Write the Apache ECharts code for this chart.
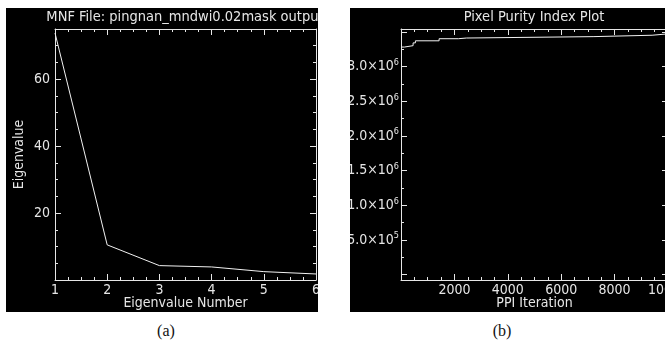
<!DOCTYPE html>
<html>
<head>
<meta charset="utf-8">
<script src="https://cdn.jsdelivr.net/npm/echarts@6/dist/echarts.min.js"></script>
<style>
  body { margin: 0; background: #fff; width: 665px; height: 344px; position: relative; overflow: hidden; }
  .panel { position: absolute; top: 8px; height: 304px; background: #000; }
  .caption { position: absolute; top: 322px; width: 60px; text-align: center;
    font-family: 'Liberation Serif', 'DejaVu Serif', serif; font-size: 16px; color: #111; }
</style>
</head>
<body>
<div id="mnf" class="panel" style="left:6px;width:312px;"></div>
<div id="ppi" class="panel" style="left:350px;width:315px;"></div>
<div class="caption" style="left:136px;">(a)</div>
<div class="caption" style="left:472px;">(b)</div>
<script>
// (a) MNF eigenvalues
const eigenNumbers = [1, 2, 3, 4, 5, 6];
const eigenValues = [73.8, 10.5, 4.3, 3.9, 2.5, 1.8];

// (b) PPI curve, value holds until the next iteration
const ppiIterations = [0, 127, 453, 540, 1427, 2150, 2450, 7194, 9404, 10000];
const ppiCounts = [3.28e6, 3.30e6, 3.34e6, 3.37e6, 3.40e6, 3.41e6, 3.43e6, 3.45e6, 3.47e6, 3.47e6];

const FONT = "'DejaVu Sans Condensed', 'Liberation Sans', sans-serif";
const FG = '#e6e6e6';
const LABEL_SIZE = 14;

// a box axis: line + inward ticks, optional labels
function boxAxis(pos, extra) {
  return Object.assign({
    type: 'value',
    position: pos,
    nameMoveOverlap: false,
    axisLine: { show: true, onZero: false, lineStyle: { color: FG, width: 1 } },
    axisTick: { show: true, inside: true, length: 6, lineStyle: { color: FG } },
    minorTick: { show: true, splitNumber: 4, length: 3, lineStyle: { color: FG } },
    splitLine: { show: false },
    axisLabel: { show: false },
  }, extra);
}

const mnfChart = echarts.init(document.getElementById('mnf'));
const xA = { min: 1, max: 6, interval: 1 };
const yA = { min: 0, max: 75, interval: 20 };
mnfChart.setOption({
  backgroundColor: '#000',
  animation: false,
  graphic: [{
    type: 'text', x: 179, y: 2,
    style: { text: 'MNF File: pingnan_mndwi0.02mask output', fill: FG, font: '14.5px ' + FONT, textAlign: 'center' }
  }],
  grid: { left: 49, right: 2, top: 21, bottom: 32, outerBoundsMode: 'none', containLabel: false },
  xAxis: [
    boxAxis('bottom', Object.assign({
      name: 'Eigenvalue Number', nameLocation: 'middle', nameGap: 16,
      nameTextStyle: { color: FG, fontFamily: FONT, fontSize: 14, verticalAlign: 'top' },
      axisLabel: { show: true, color: FG, fontFamily: FONT, fontSize: LABEL_SIZE, margin: 3 }
    }, xA)),
    boxAxis('top', xA)
  ],
  yAxis: [
    boxAxis('left', Object.assign({
      name: 'Eigenvalue', nameLocation: 'middle', nameGap: 29,
      nameTextStyle: { color: FG, fontFamily: FONT, fontSize: 14 },
      axisLabel: { show: true, color: FG, fontFamily: FONT, fontSize: LABEL_SIZE, margin: 5,
        showMinLabel: false, showMaxLabel: false }
    }, yA)),
    boxAxis('right', yA)
  ],
  series: [{
    type: 'line',
    data: eigenNumbers.map((n, i) => [n, eigenValues[i]]),
    showSymbol: false,
    lineStyle: { color: '#f2f2f2', width: 1 }
  }]
});

const ppiChart = echarts.init(document.getElementById('ppi'));
const pxA = { min: 0, max: 10000, interval: 2000 };
const pyA = { min: -76000, max: 3540000, splitNumber: 7, minorTick: { show: true, splitNumber: 2, length: 3, lineStyle: { color: FG } } };
ppiChart.setOption({
  backgroundColor: '#000',
  animation: false,
  graphic: [{
    type: 'text', x: 184, y: 2,
    style: { text: 'Pixel Purity Index Plot', fill: FG, font: '14.5px ' + FONT, textAlign: 'center' }
  }],
  grid: { left: 51, right: -3, top: 21, bottom: 32, outerBoundsMode: 'none', containLabel: false },
  xAxis: [
    boxAxis('bottom', Object.assign({
      name: 'PPI Iteration', nameLocation: 'middle', nameGap: 16,
      nameTextStyle: { color: FG, fontFamily: FONT, fontSize: 14, verticalAlign: 'top' },
      axisLabel: { show: true, color: FG, fontFamily: FONT, fontSize: LABEL_SIZE, margin: 3,
        showMinLabel: false, formatter: (v) => String(v) }
    }, pxA)),
    boxAxis('top', pxA)
  ],
  yAxis: [
    boxAxis('left', Object.assign({
      axisLabel: {
        show: true, margin: 2, showMinLabel: false, showMaxLabel: false,
        formatter: (v) => {
          if (v <= 0 || v > 3.2e6) return '';
          const exp = Math.floor(Math.log10(v));
          const mant = (v / Math.pow(10, exp)).toFixed(1);
          return '{m|' + mant + '×10}{e|' + exp + '}';
        },
        rich: {
          m: { color: FG, fontFamily: FONT, fontSize: LABEL_SIZE },
          e: { color: FG, fontFamily: FONT, fontSize: 9, verticalAlign: 'top', padding: [0, 0, 8, 0] }
        }
      }
    }, pyA)),
    boxAxis('right', pyA)
  ],
  series: [{
    type: 'line',
    step: 'end',
    data: ppiIterations.map((it, i) => [it, ppiCounts[i]]),
    showSymbol: false,
    lineStyle: { color: '#f2f2f2', width: 1 }
  }]
});
</script>
</body>
</html>
